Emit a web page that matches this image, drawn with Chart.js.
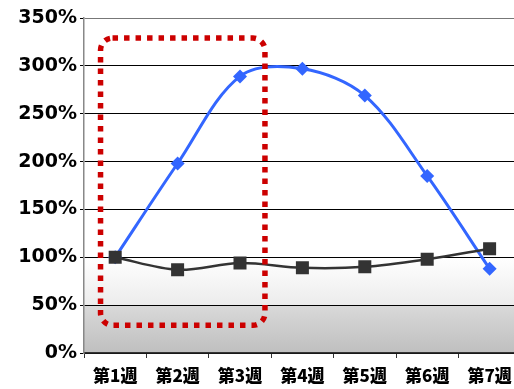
<!DOCTYPE html>
<html>
<head>
<meta charset="utf-8">
<script src="https://cdn.jsdelivr.net/npm/chart.js@4/dist/chart.umd.min.js"></script>
<style>
  html, body { margin: 0; padding: 0; background: #ffffff; overflow: hidden; }
  #wrap { position: relative; width: 530px; height: 389px; }
</style>
</head>
<body>
<div id="wrap"><canvas id="c" width="530" height="389"></canvas></div>
<script>
// Weekly ratios (%)
const weeks = ['第1週', '第2週', '第3週', '第4週', '第5週', '第6週', '第7週'];
const seriesBlue = [100, 198, 289, 297, 269, 185, 88];
const seriesBlack = [100, 87, 94, 89, 90, 98, 109];
const yTicks = [0, 50, 100, 150, 200, 250, 300, 350];

// Highlighted span: category index range and value range (%)
const highlightX = [-0.235, 2.4];
const highlightY = [29, 329];

// Plot-area background: white above 100%, shading to grey toward 0%
const plotBackground = {
  id: 'plotBackground',
  beforeDraw(chart) {
    const { ctx, chartArea: a, scales: { y } } = chart;
    const h = a.bottom - a.top;
    const p100 = (y.getPixelForValue(100) - a.top) / h;
    const p50 = (y.getPixelForValue(50) - a.top) / h;
    const g = ctx.createLinearGradient(0, a.top, 0, a.bottom);
    g.addColorStop(0, '#ffffff');
    g.addColorStop(p100, '#ffffff');
    g.addColorStop(p50 - 0.001, '#ececec');
    g.addColorStop(p50 + 0.001, '#d9d9d9');
    g.addColorStop(1, '#bfbfbf');
    ctx.save();
    ctx.fillStyle = g;
    ctx.fillRect(a.left, a.top, chart.width - a.left, h);
    ctx.restore();
  }
};

// Red dotted rounded frame around the first three weeks
const highlightFrame = {
  id: 'highlightFrame',
  afterDatasetsDraw(chart) {
    const { ctx, scales: { x, y } } = chart;
    const l = x.getPixelForValue(highlightX[0]);
    const r = x.getPixelForValue(highlightX[1]);
    const t = y.getPixelForValue(highlightY[1]);
    const b = y.getPixelForValue(highlightY[0]);
    ctx.save();
    ctx.strokeStyle = '#cc0000';
    ctx.lineWidth = 5.5;
    ctx.setLineDash([5.5, 6]);
    ctx.beginPath();
    ctx.roundRect(l, t, r - l, b - t, 12);
    ctx.stroke();
    ctx.restore();
  }
};

new Chart(document.getElementById('c'), {
  type: 'line',
  data: {
    labels: weeks,
    datasets: [
      {
        data: seriesBlue,
        order: 1,
        borderColor: '#3366ff',
        backgroundColor: '#3366ff',
        borderWidth: 3,
        pointStyle: 'rectRot',
        pointRadius: 7,
        pointBorderWidth: 0,
        tension: 0.33
      },
      {
        data: seriesBlack,
        order: 0,
        borderColor: '#333333',
        backgroundColor: '#333333',
        borderWidth: 2.5,
        pointStyle: 'rect',
        pointRadius: 9.2,
        pointBorderWidth: 0,
        tension: 0.33
      }
    ]
  },
  options: {
    responsive: false,
    animation: false,
    devicePixelRatio: 1,
    layout: { padding: { top: 18, right: 5, left: 0, bottom: 0 } },
    plugins: { legend: { display: false }, tooltip: { enabled: false } },
    scales: {
      x: {
        offset: true,
        grid: { display: true, drawOnChartArea: false, offset: true, tickLength: 5, color: '#333333' },
        border: { color: '#333333', width: 1.5 },
        ticks: {
          autoSkip: false,
          padding: 7,
          color: '#000000',
          maxRotation: 0,
          font: { family: "'Noto Sans CJK JP', sans-serif", size: 17, weight: 900 }
        },
        afterFit(s) { s.height = 36; }
      },
      y: {
        min: 0,
        max: 350,
        afterBuildTicks(s) { s.ticks = yTicks.map(v => ({ value: v })); },
        grid: {
          color: ctx => ctx.tick && ctx.tick.value === 350 ? '#777777' : '#000000',
          tickColor: '#000000',
          tickLength: 4,
          lineWidth: 1
        },
        border: { color: '#888888', width: 1.5 },
        ticks: {
          autoSkip: false,
          padding: 3,
          color: '#000000',
          callback: v => v + '%',
          font: { family: "'DejaVu Sans', sans-serif", size: 19, weight: 'bold' }
        },
        afterFit(s) { s.width = 84; }
      }
    }
  },
  plugins: [plotBackground, highlightFrame]
});
</script>
</body>
</html>
